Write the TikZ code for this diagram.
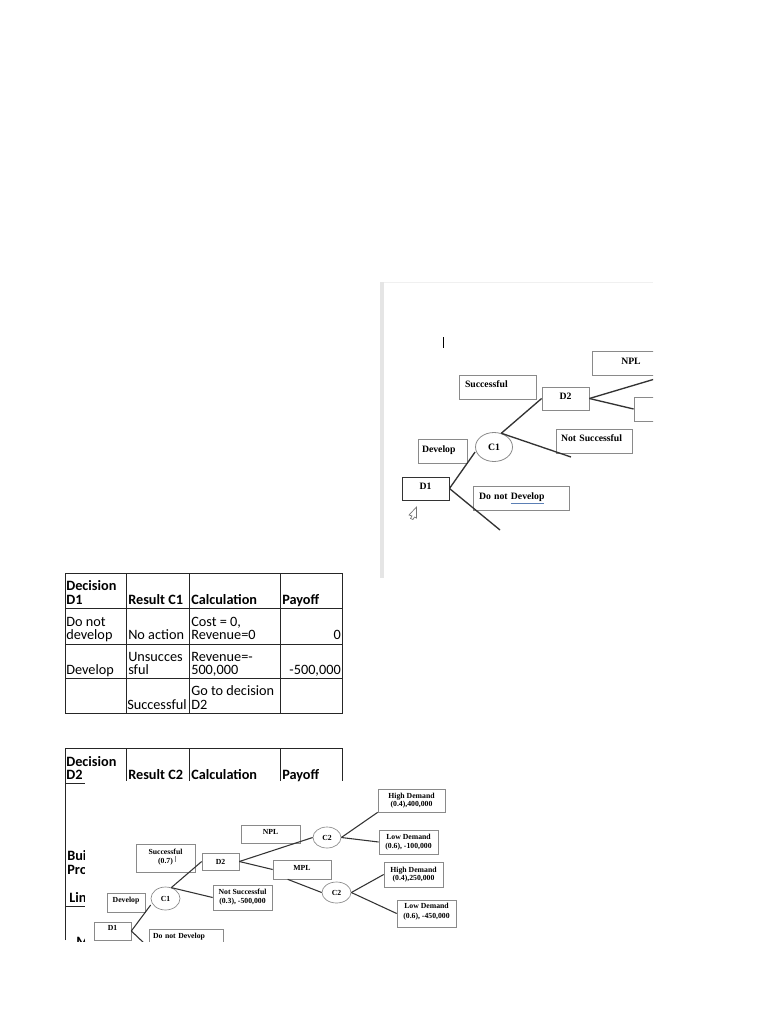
\documentclass[tikz,border=0pt]{standalone}
\usepackage{fontspec}
\setmainfont{Liberation Serif}
\newfontfamily\tabfont{Carlito}
\usetikzlibrary{shapes.geometric}
\definecolor{edgegray}{HTML}{8A8A8A}
\definecolor{wireblack}{HTML}{333333}
\definecolor{spellblue}{HTML}{5B7FB5}
\newcommand{\spellul}[1]{\textcolor{spellblue}{\underline{\textcolor{black}{#1}}}}
\tikzset{
  sz/.style 2 args={minimum width=#1*0.75pt,minimum height=#2*0.75pt},
  boxa/.style={draw=edgegray,line width=0.6pt,fill=white,inner sep=0pt,font=\fontsize{7.3}{9}\bfseries},
  boxb/.style={draw=edgegray,line width=0.5pt,fill=white,inner sep=0pt,align=center,font=\fontsize{5.8}{6.4}\bfseries},
  circa/.style={ellipse,draw=edgegray,line width=0.6pt,fill=white,inner sep=0pt,font=\fontsize{7.3}{9}\bfseries},
  circb/.style={ellipse,draw=edgegray,line width=0.5pt,fill=white,inner sep=0pt,font=\fontsize{5.8}{6.4}\bfseries},
  wirea/.style={draw=wireblack,line width=1pt},
  wireb/.style={draw=wireblack,line width=0.8pt},
  grid/.style={draw=black!85,line width=0.7pt},
  cell/.style={anchor=south west,inner sep=0pt,align=left,execute at end node=\vphantom{gp},font=\tabfont\fontsize{10.7}{10.2}\selectfont},
  cellr/.style={anchor=south east,inner sep=0pt,align=right,execute at end node=\vphantom{gp},font=\tabfont\fontsize{10.7}{10.2}\selectfont},
  head/.style={cell,font=\tabfont\bfseries\fontsize{10.7}{10.2}\selectfont},
  stub/.style={anchor=base west,inner sep=0pt,font=\tabfont\bfseries\fontsize{10.7}{10.2}\selectfont},
}
\begin{document}
\begin{tikzpicture}[x=0.75pt,y=-0.75pt]
\useasboundingbox (0,0) rectangle (768,1024);
\fill[white] (0,0) rectangle (768,1024);

% ---------- first table
\draw[grid] (65,573) rectangle (342,713);
\foreach \yy in {608,644,678} \draw[grid] (65,\yy) -- (342,\yy);
\foreach \xx in {126,189,280} \draw[grid] (\xx,573) -- (\xx,713);
\node[head] (h1) at (66,607) {Decision\\D1};
\node[head] (h2) at (128,607) {Result C1};
\node[head] (h3) at (191,607) {Calculation};
\node[head] (h4) at (282,607) {Payoff};
\node[cell] (r1a) at (66,642.5) {Do not\\develop};
\node[cell] (r1b) at (128,642.5) {No action};
\node[cell] (r1c) at (191,642.5) {Cost = 0,\\Revenue=0};
\node[cellr] (r1d) at (341,642.5) {0};
\node[cell] (r2a) at (66,677.5) {Develop};
\node[cell] (r2b) at (128,677.5) {Unsucces\\sful};
\node[cell] (r2c) at (191,677.5) {Revenue=-\\500,000};
\node[cellr] (r2d) at (341,677.5) {-500,000};
\node[cell] (r3b) at (127,712) {Successful};
\node[cell] (r3c) at (191,712) {Go to decision\\D2};

% ---------- second table, hidden by the pasted picture
\draw[grid] (65,940) -- (65,748) -- (342,748) -- (342,781);
\foreach \xx in {126,189,280} \draw[grid] (\xx,748) -- (\xx,781);
\draw[grid] (65,783) -- (85,783);
\draw[grid] (65,906) -- (85,906);
\node[head] (t1) at (66,782.5) {Decision\\D2};
\node[head] (t2) at (128,782.5) {Result C2};
\node[head] (t3) at (191,782.5) {Calculation};
\node[head] (t4) at (282,782.5) {Payoff};
\begin{scope}
\clip (60,784) rectangle (85,941);
\node[stub] (s1) at (67,860) {Bui};
\node[stub] (s2) at (67,874) {Pro};
\node[stub] (s3) at (69,902) {Lin};
\node[stub] (s4) at (76,946) {M};
\end{scope}

% ---------- upper screenshot
\fill[black!10] (380,282) rectangle (384,578);
\draw[black!6,line width=0.5pt] (384,282) -- (653,282);
\draw[black,line width=0.8pt] (443.5,337) -- (443.5,348);
\draw[black!55,line width=0.5pt,fill=white] (416.5,507) -- (409,515) -- (412,516) -- (410.5,518.5) -- (413,519.5) -- (414.5,517) -- (416.5,518) -- cycle;
\begin{scope}
\clip (384,283) rectangle (653,578);
\coordinate (a1) at (571,457);
\coordinate (a2) at (500,530);
\coordinate (a3) at (665,376);
\node[boxa,sz={77}{24},align=left,text width=65*0.75pt] (aSucc) at (497.5,387) {\raisebox{4.5pt}{Successful}};
\node[boxa,sz={47}{23}] (aD2) at (565.5,398.5) {\raisebox{3.7pt}{D2}};
\node[boxa,sz={78}{24}] (aNPL) at (631,363) {\raisebox{3pt}{NPL}};
\node[boxa,sz={50}{24}] (aMPL) at (659,409) {};
\node[boxa,sz={49}{24},align=left,text width=41*0.75pt] (aDev) at (442.5,451) {\raisebox{3pt}{Develop}};
\node[circa,sz={37}{29}] (aC1) at (494,447) {C1};
\node[boxa,sz={76}{24},align=left,text width=66*0.75pt] (aNot) at (594,441) {\raisebox{4.5pt}{Not Successful}};
\node[boxa,draw=black!80,line width=0.7pt,sz={47}{23}] (aD1) at (425.5,488.5) {\raisebox{4pt}{D1}};
\node[boxa,sz={96}{24},align=left,text width=84*0.75pt] (aNo) at (521,498) {\raisebox{3.5pt}{Do not \spellul{Develop}}};
\draw[wirea] (aD1.east) -- (aC1.west |- 0,452);
\draw[wirea] (aC1.62) -- (aD2.west);
\draw[wirea] (aC1.62) -- (a1);
\draw[wirea] (aD1.east) -- (a2);
\draw[wirea] (aD2.east) -- (a3);
\draw[wirea] (aD2.east) -- (aMPL.west);
\end{scope}

% ---------- lower pasted picture
\fill[white] (85,781.5) rectangle (470,941);
\begin{scope}
\clip (85,781) rectangle (470,941);
\coordinate (b1) at (145,944);
\node[boxb,sz={59}{28}] (bSucc) at (165.5,858) {\raisebox{3pt}{\shortstack{Successful\\(0.7)}}};
\draw[black!50,line width=0.4pt] (175.5,856) -- (175.5,862);
\node[boxb,sz={37}{17}] (bD2) at (220.5,861.5) {D2};
\node[boxb,sz={59}{18}] (bNPL) at (270.5,834) {\raisebox{2.5pt}{NPL}};
\node[boxb,sz={58}{19}] (bMPL) at (302,869.5) {\raisebox{2.7pt}{MPL}};
\node[circb,sz={28}{21}] (bC2a) at (327,837.5) {C2};
\node[circb,sz={29}{21}] (bC2b) at (336.5,892.5) {C2};
\node[boxb,sz={67}{23}] (bHi1) at (411.5,800.5) {High Demand\\(0.4),400,000};
\node[boxb,sz={59}{24}] (bLo1) at (408.5,842) {Low Demand\\(0.6), -100,000};
\node[boxb,sz={59}{25}] (bHi2) at (413.5,874.5) {High Demand\\(0.4),250,000};
\node[boxb,sz={59}{27}] (bLo2) at (426.5,913.5) {\raisebox{4pt}{\shortstack{Low Demand\\(0.6), -450,000}}};
\node[boxb,sz={59}{25}] (bNot) at (242.5,897.5) {\raisebox{2pt}{\shortstack{Not Successful\\(0.3), -500,000}}};
\node[boxb,sz={38}{19}] (bDev) at (126,902.5) {\raisebox{3.5pt}{Develop}};
\node[circb,sz={29}{23}] (bC1) at (165.5,898.5) {C1};
\node[boxb,sz={37}{18}] (bD1) at (112.5,931) {\raisebox{4.5pt}{D1}};
\node[boxb,sz={74}{24},text width=66*0.75pt,align=left] (bNo) at (186,941) {\raisebox{7.5pt}{Do not \spellul{Develop}}};
\draw[wireb] (bD1.east) -- (bC1.west |- 0,905);
\draw[wireb] (bC1.62) -- (bD2.west);
\draw[wireb] (bC1.62) -- (bNot.west);
\draw[wireb] (bD1.east) -- (b1);
\draw[wireb] (bD2.east) -- (bC2a.west);
\draw[wireb] (bD2.east) -- (bMPL.west);
\draw[wireb] (bMPL.south west) ++(15,0) -- (bC2b.west);
\draw[wireb] (bC2a.east) -- (bHi1.south west);
\draw[wireb] (bC2a.east) -- (bLo1.west);
\draw[wireb] (bC2b.east) -- (bHi2.west);
\draw[wireb] (bC2b.east) -- (bLo2.west);
\end{scope}
\end{tikzpicture}
\end{document}
